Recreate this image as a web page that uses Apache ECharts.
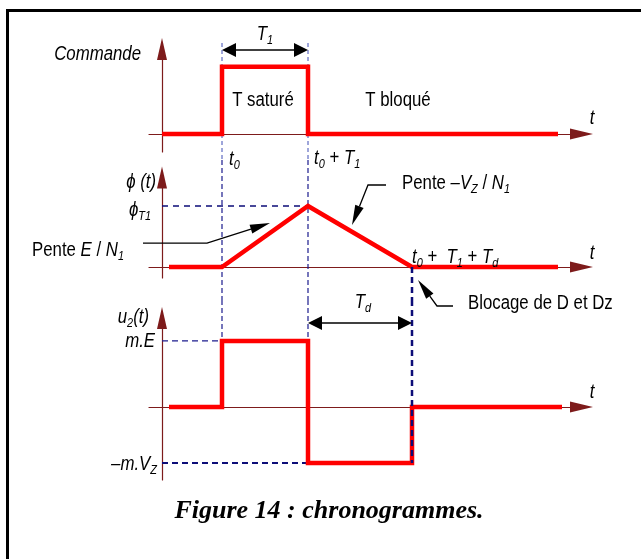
<!DOCTYPE html>
<html>
<head>
<meta charset="utf-8">
<script src="https://cdn.jsdelivr.net/npm/echarts@6/dist/echarts.min.js"></script>
<style>
  html, body { margin: 0; padding: 0; background: #fff; }
  #chart { width: 641px; height: 559px; }
</style>
</head>
<body>
<div id="chart"></div>
<script>
// time instants: t0, t0 + T1, t0 + T1 + Td
const tA = 6, tB = 14.6, tC = 25

// signals
const commandeT = [0, 6, 6, 14.6, 14.6, 39.6]
const commandeV = [0, 0, 1, 1, 0, 0]
const phiT = [0.7, 6, 14.6, 25, 39.6]
const phiV = [0, 0, 1, 0, 0]
const u2T = [0.7, 6, 6, 14.6, 14.6, 25, 25, 40]
const u2V = [0, 0, 1, 1, -0.85, -0.85, 0, 0]

// dashed guides, [t, v] pairs (they run on between the panels)
const guide1 = [[[tA, 1.352], [tA, -0.386]], [[tB, 1.352], [tB, -0.386]]]
const guide2 = [[[tA, 1.754], [tA, -0.541]], [[tB, 1.754], [tB, -0.541]]]
const guide2End = [[tC, 0], [tC, -0.541]]
const guide2Peak = [[0, 1], [tB, 1]]
const guide3 = [[[tA, 1.621], [tA, 1]], [[tB, 1.621], [tB, 1]]]
const guide3End = [[tC, 1.621], [tC, -0.85]]
const guide3High = [[0, 1], [tA, 1]]
const guide3Low = [[0, -0.85], [tB, -0.85]]

// leaders [x1, y1, x2, y2, tipX, tipY] and double arrows [from, to, level]
const leaders2 = [
  [-1.9, 0.393, 4.5, 0.393, 10.8, 0.72],
  [22.4, 1.344, 20.6, 1.344, 19.0, 0.689],
  [29.1, -0.639, 27.5, -0.639, 25.6, -0.213]
]
const spanT1 = [[tA, tB, 1.248]]
const spanTd = [[tB, tC, 1.273]]

// axis ranges
const xRange = [-1.3, 41.95]
const yRanges = [[-0.267, 1.263], [-0.18, 1.467], [-1.106, 1.348]]

const sans = '"Liberation Sans", Arial, sans-serif'
const axisColor = '#7d1b1b'

const rich = {
  r: { fontFamily: sans, fontSize: 20, lineHeight: 26, fill: '#000' },
  i: { fontFamily: sans, fontSize: 20, fontStyle: 'italic', lineHeight: 26, fill: '#000' },
  s: { fontFamily: sans, fontSize: 13, fontStyle: 'italic', lineHeight: 13, verticalAlign: 'bottom', fill: '#000' }
}

function label (x, y, text, align) {
  return {
    type: 'text', x: x, y: y, scaleX: 0.84, z: 10, silent: true,
    style: { text: text, rich: rich, align: align, verticalAlign: 'middle', textAlign: align, textVerticalAlign: 'middle' }
  }
}

const grids = [
  { left: 149, width: 432.5, top: 49, height: 103 },
  { left: 149, width: 432.5, top: 177.5, height: 100.5 },
  { left: 149, width: 432.5, top: 318, height: 162 }
]

const xAxes = grids.map((g, k) => ({
  type: 'value', gridIndex: k, min: xRange[0], max: xRange[1],
  axisLine: { onZero: true, symbol: ['none', 'triangle'], symbolSize: [11, 23], lineStyle: { color: axisColor, width: 1.2 } },
  axisTick: { show: false }, axisLabel: { show: false }, splitLine: { show: false }
}))
const yAxes = grids.map((g, k) => ({
  type: 'value', gridIndex: k, min: yRanges[k][0], max: yRanges[k][1],
  axisLine: { onZero: true, symbol: ['none', 'triangle'], symbolSize: [10, 22], lineStyle: { color: axisColor, width: 1.2 } },
  axisTick: { show: false }, axisLabel: { show: false }, splitLine: { show: false }
}))

function signal (t, v, k) {
  return {
    type: 'line', xAxisIndex: k, yAxisIndex: k, symbol: 'none', z: 3, silent: true,
    data: t.map((x, i) => [x, v[i]]),
    lineStyle: { color: '#ff0000', width: 4.5, join: 'miter', cap: 'butt' }
  }
}

function guide (pts, k, color, width, dash, z) {
  return {
    type: 'line', xAxisIndex: k, yAxisIndex: k, symbol: 'none', clip: false, silent: true, z: z || 2,
    data: pts, lineStyle: { color: color, width: width, type: dash }
  }
}

function arrowHead (from, tip, len, half) {
  const dx = tip[0] - from[0]
  const dy = tip[1] - from[1]
  const d = Math.hypot(dx, dy)
  const ux = dx / d
  const uy = dy / d
  const bx = tip[0] - ux * len
  const by = tip[1] - uy * len
  return [tip, [bx - uy * half, by + ux * half], [bx + uy * half, by - ux * half], [bx, by]]
}

function leaderSeries (k, rows) {
  return {
    type: 'custom', xAxisIndex: k, yAxisIndex: k, clip: false, silent: true, z: 6, data: rows,
    renderItem: function (params, api) {
      const p = [0, 1, 2].map(j => api.coord([api.value(2 * j), api.value(2 * j + 1)]))
      const h = arrowHead(p[1], p[2], 20, 4.5)
      return {
        type: 'group',
        children: [
          { type: 'polyline', shape: { points: [p[0], p[1], h[3]] }, style: { stroke: '#000', lineWidth: 1.3, fill: null } },
          { type: 'polygon', shape: { points: h.slice(0, 3) }, style: { fill: '#000' } }
        ]
      }
    }
  }
}

function spanSeries (k, rows) {
  return {
    type: 'custom', xAxisIndex: k, yAxisIndex: k, clip: false, silent: true, z: 6, data: rows,
    renderItem: function (params, api) {
      const a = api.coord([api.value(0), api.value(2)])
      const b = api.coord([api.value(1), api.value(2)])
      const ha = arrowHead(b, a, 14, 7)
      const hb = arrowHead(a, b, 14, 7)
      return {
        type: 'group',
        children: [
          { type: 'line', shape: { x1: ha[3][0], y1: ha[3][1], x2: hb[3][0], y2: hb[3][1] }, style: { stroke: '#000', lineWidth: 1.5 } },
          { type: 'polygon', shape: { points: ha.slice(0, 3) }, style: { fill: '#000' } },
          { type: 'polygon', shape: { points: hb.slice(0, 3) }, style: { fill: '#000' } }
        ]
      }
    }
  }
}

const thinBlue = '#3f4db5'
const navy = '#1c1c8e'
const darkNavy = '#0d0d78'

const series = [
  guide(guide1[0], 0, thinBlue, 1, [4, 3]),
  guide(guide1[1], 0, thinBlue, 1, [4, 3]),
  guide(guide2[0], 1, navy, 1.2, [5, 3]),
  guide(guide2[1], 1, navy, 1.2, [5, 3]),
  guide(guide2End, 1, darkNavy, 2.5, [6, 4], 5),
  guide(guide2Peak, 1, darkNavy, 1.5, [6, 5]),
  guide(guide3[0], 2, navy, 1.2, [5, 3]),
  guide(guide3[1], 2, navy, 1.2, [5, 3]),
  guide(guide3End, 2, darkNavy, 2.5, [6, 4], 5),
  guide(guide3High, 2, navy, 1.3, [6, 4]),
  guide(guide3Low, 2, darkNavy, 2, [6, 4]),
  signal(commandeT, commandeV, 0),
  signal(phiT, phiV, 1),
  signal(u2T, u2V, 2),
  leaderSeries(1, leaders2),
  spanSeries(0, spanT1),
  spanSeries(2, spanTd)
]

const graphics = [
  { type: 'rect', silent: true, shape: { x: 7.5, y: 10.5, width: 700, height: 700 }, style: { fill: 'none', stroke: '#000', lineWidth: 3 } },
  label(141, 54, '{i|Commande}', 'right'),
  label(265, 34, '{i|T}{s|1}', 'center'),
  label(263, 100, '{r|T saturé}', 'center'),
  label(398, 100, '{r|T bloqué}', 'center'),
  label(592, 118, '{i|t}', 'center'),
  label(229, 159, '{i|t}{s|0}', 'left'),
  label(314, 158, '{i|t}{s|0}{r| + }{i|T}{s|1}', 'left'),
  label(156, 182, '{i|ϕ (t)}', 'right'),
  label(151, 210, '{i|ϕ}{s|T1}', 'right'),
  label(32, 250, '{r|Pente }{i|E}{r| / }{i|N}{s|1}', 'left'),
  label(402, 183, '{r|Pente }{i|–V}{s|Z}{r| / }{i|N}{s|1}', 'left'),
  label(412, 257, '{i|t}{s|0}{r| +  }{i|T}{s|1}{r| + }{i|T}{s|d}', 'left'),
  label(592, 253, '{i|t}', 'center'),
  label(468, 303, '{r|Blocage de D et Dz}', 'left'),
  label(363, 302, '{i|T}{s|d}', 'center'),
  label(149, 317, '{i|u}{s|2}{i|(t)}', 'right'),
  label(155, 341, '{i|m.E}', 'right'),
  label(157, 464, '{i|–m.V}{s|Z}', 'right'),
  label(592, 392, '{i|t}', 'center'),
  {
    type: 'text', x: 329, y: 511, silent: true,
    style: {
      text: 'Figure 14 : chronogrammes.', font: 'italic bold 26px "Liberation Serif", "Times New Roman", serif',
      fill: '#000', align: 'center', verticalAlign: 'middle', textAlign: 'center', textVerticalAlign: 'middle'
    }
  }
]

const myChart = echarts.init(document.getElementById('chart'))
myChart.setOption({
  animation: false,
  backgroundColor: '#fff',
  grid: grids.map(g => Object.assign({ outerBoundsMode: 'none' }, g)),
  xAxis: xAxes,
  yAxis: yAxes,
  series: series,
  graphic: graphics
})
</script>
</body>
</html>
